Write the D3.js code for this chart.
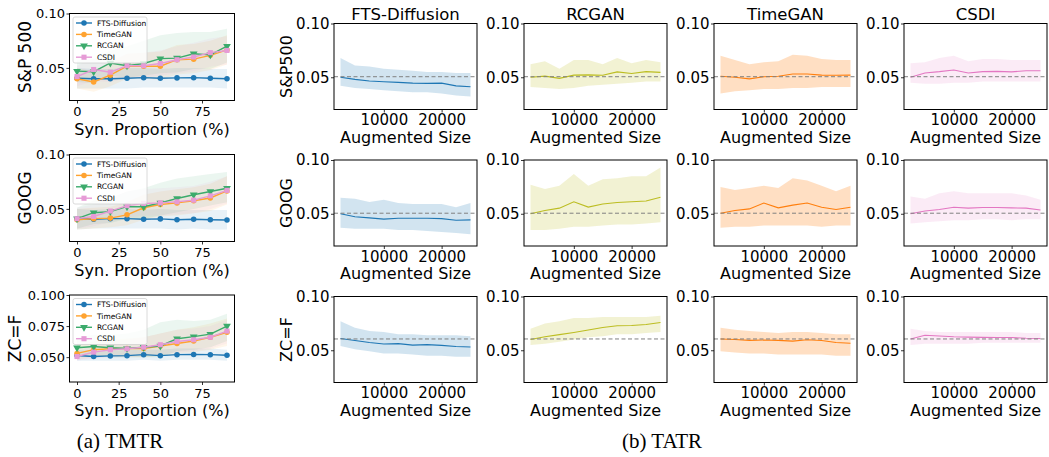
<!DOCTYPE html>
<html lang="en">
<head>
<meta charset="UTF-8">
<title>TMTR / TATR</title>
<script src="https://cdn.jsdelivr.net/npm/d3@7"></script>
<style>
  body { margin: 0; background: #fff; }
  text { font-family: 'DejaVu Sans', sans-serif; fill: #000; }
</style>
</head>
<body>
<script>
// ---- data ----
const models = ['FTS-Diffusion', 'TimeGAN', 'RCGAN', 'CSDI'];
const assetsLeft = ['S&P 500', 'GOOG', 'ZC=F'];
const assetsRight = ['S&P500', 'GOOG', 'ZC=F'];
const proportions = [0, 10, 20, 30, 40, 50, 60, 70, 80, 90];
const augSizes = [2500, 5000, 7500, 10000, 12500, 15000, 17500, 20000, 22500, 25000];

// TMTR (left), rows = models in order above
const tmtrSpx = [
    [0.0405, 0.0400, 0.0400, 0.0405, 0.0410, 0.0405, 0.0408, 0.0410, 0.0405, 0.0400],
    [0.0400, 0.0370, 0.0433, 0.0515, 0.0515, 0.0515, 0.0575, 0.0580, 0.0615, 0.0665],
    [0.0470, 0.0465, 0.0545, 0.0520, 0.0540, 0.0585, 0.0590, 0.0630, 0.0620, 0.0700],
    [0.0420, 0.0485, 0.0460, 0.0520, 0.0520, 0.0540, 0.0575, 0.0600, 0.0640, 0.0660]
];
const tmtrSpxLo = [
    [0.031, 0.031, 0.031, 0.031, 0.032, 0.032, 0.032, 0.032, 0.032, 0.031],
    [0.031, 0.028, 0.033, 0.040, 0.040, 0.039, 0.044, 0.045, 0.048, 0.053],
    [0.037, 0.036, 0.043, 0.041, 0.043, 0.045, 0.046, 0.049, 0.049, 0.055],
    [0.033, 0.038, 0.037, 0.041, 0.041, 0.043, 0.045, 0.047, 0.051, 0.053]
];
const tmtrSpxHi = [
    [0.050, 0.049, 0.049, 0.050, 0.050, 0.049, 0.050, 0.050, 0.049, 0.049],
    [0.050, 0.047, 0.055, 0.063, 0.064, 0.065, 0.071, 0.072, 0.075, 0.080],
    [0.057, 0.058, 0.066, 0.070, 0.075, 0.080, 0.082, 0.083, 0.083, 0.086],
    [0.052, 0.059, 0.057, 0.063, 0.064, 0.066, 0.070, 0.073, 0.077, 0.079]
];
const tmtrGoog = [
    [0.0410, 0.0405, 0.0410, 0.0410, 0.0405, 0.0408, 0.0400, 0.0405, 0.0400, 0.0398],
    [0.0400, 0.0410, 0.0415, 0.0445, 0.0510, 0.0540, 0.0555, 0.0575, 0.0600, 0.0665],
    [0.0410, 0.0465, 0.0475, 0.0520, 0.0520, 0.0555, 0.0595, 0.0630, 0.0660, 0.0690],
    [0.0410, 0.0430, 0.0480, 0.0530, 0.0550, 0.0555, 0.0565, 0.0580, 0.0620, 0.0670]
];
const tmtrGoogLo = [
    [0.031, 0.032, 0.032, 0.032, 0.032, 0.032, 0.031, 0.032, 0.031, 0.031],
    [0.031, 0.032, 0.033, 0.035, 0.040, 0.043, 0.044, 0.046, 0.048, 0.054],
    [0.032, 0.036, 0.037, 0.041, 0.041, 0.044, 0.047, 0.050, 0.053, 0.056],
    [0.032, 0.034, 0.038, 0.042, 0.044, 0.044, 0.045, 0.046, 0.050, 0.055]
];
const tmtrGoogHi = [
    [0.050, 0.049, 0.050, 0.050, 0.049, 0.050, 0.049, 0.049, 0.049, 0.049],
    [0.050, 0.051, 0.052, 0.056, 0.063, 0.066, 0.068, 0.070, 0.073, 0.080],
    [0.051, 0.058, 0.060, 0.066, 0.069, 0.074, 0.078, 0.080, 0.082, 0.084],
    [0.051, 0.054, 0.060, 0.066, 0.068, 0.069, 0.070, 0.071, 0.075, 0.080]
];
const tmtrZc = [
    [0.0513, 0.0505, 0.0510, 0.0512, 0.0520, 0.0512, 0.0520, 0.0522, 0.0520, 0.0515],
    [0.0530, 0.0560, 0.0567, 0.0570, 0.0570, 0.0590, 0.0610, 0.0630, 0.0660, 0.0700],
    [0.0575, 0.0586, 0.0575, 0.0570, 0.0580, 0.0590, 0.0648, 0.0665, 0.0685, 0.0750],
    [0.0505, 0.0540, 0.0560, 0.0567, 0.0580, 0.0600, 0.0626, 0.0640, 0.0660, 0.0710]
];
const tmtrZcLo = [
    [0.047, 0.047, 0.047, 0.047, 0.048, 0.047, 0.048, 0.048, 0.048, 0.047],
    [0.048, 0.050, 0.050, 0.050, 0.050, 0.051, 0.053, 0.054, 0.056, 0.059],
    [0.050, 0.051, 0.050, 0.050, 0.050, 0.050, 0.055, 0.056, 0.058, 0.063],
    [0.047, 0.049, 0.050, 0.050, 0.051, 0.052, 0.054, 0.055, 0.057, 0.061]
];
const tmtrZcHi = [
    [0.056, 0.055, 0.055, 0.056, 0.056, 0.056, 0.057, 0.057, 0.057, 0.056],
    [0.059, 0.063, 0.064, 0.065, 0.066, 0.069, 0.072, 0.074, 0.077, 0.081],
    [0.066, 0.068, 0.068, 0.069, 0.072, 0.078, 0.080, 0.079, 0.080, 0.085],
    [0.055, 0.060, 0.063, 0.064, 0.066, 0.069, 0.072, 0.073, 0.075, 0.080]
];

// TATR (right), rows = models in order above
const tatrSpx = [
    [0.0500, 0.0480, 0.0465, 0.0458, 0.0452, 0.0445, 0.0443, 0.0445, 0.0420, 0.0412],
    [0.0510, 0.0500, 0.0485, 0.0505, 0.0510, 0.0530, 0.0530, 0.0520, 0.0518, 0.0520],
    [0.0500, 0.0510, 0.0490, 0.0520, 0.0522, 0.0518, 0.0550, 0.0535, 0.0552, 0.0545],
    [0.0500, 0.0540, 0.0552, 0.0568, 0.0540, 0.0552, 0.0555, 0.0550, 0.0560, 0.0560]
];
const tatrSpxLo = [
    [0.042, 0.040, 0.039, 0.038, 0.037, 0.036, 0.036, 0.035, 0.033, 0.032],
    [0.035, 0.037, 0.038, 0.039, 0.039, 0.040, 0.040, 0.041, 0.041, 0.041],
    [0.041, 0.040, 0.039, 0.040, 0.042, 0.043, 0.044, 0.045, 0.046, 0.046],
    [0.045, 0.044, 0.044, 0.045, 0.045, 0.046, 0.046, 0.046, 0.046, 0.046]
];
const tatrSpxHi = [
    [0.068, 0.061, 0.060, 0.058, 0.057, 0.056, 0.055, 0.055, 0.054, 0.054],
    [0.070, 0.066, 0.062, 0.064, 0.065, 0.071, 0.070, 0.067, 0.066, 0.066],
    [0.062, 0.065, 0.058, 0.066, 0.066, 0.062, 0.068, 0.063, 0.066, 0.064],
    [0.063, 0.064, 0.068, 0.070, 0.065, 0.067, 0.067, 0.066, 0.066, 0.066]
];
const tatrGoog = [
    [0.0500, 0.0472, 0.0462, 0.0450, 0.0458, 0.0458, 0.0458, 0.0455, 0.0440, 0.0443],
    [0.0505, 0.0530, 0.0545, 0.0600, 0.0555, 0.0580, 0.0600, 0.0560, 0.0540, 0.0560],
    [0.0500, 0.0530, 0.0552, 0.0611, 0.0562, 0.0590, 0.0605, 0.0612, 0.0618, 0.0653],
    [0.0500, 0.0525, 0.0540, 0.0560, 0.0552, 0.0558, 0.0558, 0.0555, 0.0552, 0.0535]
];
const tatrGoogLo = [
    [0.037, 0.036, 0.036, 0.036, 0.035, 0.035, 0.034, 0.033, 0.032, 0.031],
    [0.037, 0.038, 0.038, 0.039, 0.039, 0.039, 0.039, 0.038, 0.039, 0.039],
    [0.035, 0.035, 0.036, 0.038, 0.038, 0.039, 0.040, 0.040, 0.041, 0.042],
    [0.041, 0.042, 0.043, 0.044, 0.044, 0.045, 0.045, 0.044, 0.045, 0.045]
];
const tatrGoogHi = [
    [0.065, 0.064, 0.061, 0.063, 0.060, 0.059, 0.059, 0.059, 0.056, 0.060],
    [0.075, 0.072, 0.074, 0.076, 0.074, 0.083, 0.081, 0.076, 0.071, 0.076],
    [0.077, 0.073, 0.076, 0.087, 0.076, 0.082, 0.083, 0.085, 0.085, 0.093],
    [0.066, 0.064, 0.069, 0.071, 0.069, 0.069, 0.069, 0.069, 0.067, 0.063]
];
const tatrZc = [
    [0.0610, 0.0590, 0.0572, 0.0558, 0.0562, 0.0548, 0.0552, 0.0545, 0.0535, 0.0530],
    [0.0605, 0.0600, 0.0592, 0.0595, 0.0592, 0.0585, 0.0598, 0.0590, 0.0572, 0.0565],
    [0.0600, 0.0625, 0.0645, 0.0665, 0.0688, 0.0712, 0.0728, 0.0730, 0.0740, 0.0758],
    [0.0605, 0.0640, 0.0632, 0.0625, 0.0622, 0.0620, 0.0618, 0.0618, 0.0612, 0.0610]
];
const tatrZcLo = [
    [0.054, 0.051, 0.049, 0.047, 0.047, 0.046, 0.045, 0.045, 0.044, 0.044],
    [0.049, 0.048, 0.047, 0.047, 0.046, 0.046, 0.046, 0.046, 0.045, 0.045],
    [0.055, 0.056, 0.058, 0.060, 0.062, 0.063, 0.065, 0.065, 0.066, 0.067],
    [0.055, 0.056, 0.056, 0.056, 0.056, 0.057, 0.057, 0.057, 0.057, 0.057]
];
const tatrZcHi = [
    [0.077, 0.071, 0.068, 0.067, 0.065, 0.065, 0.064, 0.064, 0.064, 0.063],
    [0.071, 0.069, 0.068, 0.067, 0.066, 0.067, 0.067, 0.066, 0.065, 0.065],
    [0.070, 0.075, 0.077, 0.080, 0.080, 0.081, 0.081, 0.081, 0.081, 0.082],
    [0.070, 0.068, 0.067, 0.067, 0.067, 0.067, 0.067, 0.067, 0.066, 0.066]
];
const baselines = [0.0505, 0.0505, 0.0605];

const leftMean = [tmtrSpx, tmtrGoog, tmtrZc];
const leftLo = [tmtrSpxLo, tmtrGoogLo, tmtrZcLo];
const leftHi = [tmtrSpxHi, tmtrGoogHi, tmtrZcHi];
const rightMean = [tatrSpx, tatrGoog, tatrZc];
const rightLo = [tatrSpxLo, tatrGoogLo, tatrZcLo];
const rightHi = [tatrSpxHi, tatrGoogHi, tatrZcHi];
const rightColumns = ['FTS-Diffusion', 'RCGAN', 'TimeGAN', 'CSDI'];

// ---- styling ----
const leftColor = {'FTS-Diffusion': '#1f77b4', 'TimeGAN': '#ffa330', 'RCGAN': '#3cab6c', 'CSDI': '#e69bd6'};
const rightColor = {'FTS-Diffusion': '#1f77b4', 'TimeGAN': '#ff7f0e', 'RCGAN': '#bcbd22', 'CSDI': '#e377c2'};
const rightFillOpacity = {'FTS-Diffusion': 0.2, 'TimeGAN': 0.25, 'RCGAN': 0.2, 'CSDI': 0.15};
const markerType = {
    'FTS-Diffusion': d3.symbol().type(d3.symbolCircle).size(24),
    'TimeGAN': d3.symbol().type(d3.symbolCircle).size(24),
    'RCGAN': d3.symbol().type(d3.symbolTriangle).size(26),
    'CSDI': d3.symbol().type(d3.symbolSquare).size(26)
};
const markerRotate = m => m === 'RCGAN' ? ' rotate(180)' : '';

const W = 1049, H = 457;
const svg = d3.select('body').append('svg').attr('width', W).attr('height', H);
svg.append('rect').attr('width', W).attr('height', H).attr('fill', '#fff');

function styleAxis(g, fontSize) {
    g.select('.domain').remove();
    g.selectAll('.tick line').attr('stroke', '#000').attr('stroke-width', 0.8);
    g.selectAll('.tick text').attr('font-size', fontSize + 'px')
        .attr('font-family', "'DejaVu Sans', sans-serif").attr('fill', '#000');
}

// ---- left column (TMTR) ----
const L = {x: 69.5, w: 165, h: 87, tops: [13.5, 154.5, 295]};
const leftYDomain = [[0.02, 0.10], [0.02, 0.10], [0.03, 0.10]];
const leftYTicks = [[0.05, 0.10], [0.05, 0.10], [0.05, 0.075, 0.10]];
const leftYFmt = [d3.format('.2f'), d3.format('.2f'), d3.format('.3f')];
const leftYLabelOff = [44, 44, 54];

assetsLeft.forEach((asset, r) => {
    const g = svg.append('g').attr('transform', `translate(${L.x},${L.tops[r]})`);
    const x = d3.scaleLinear().domain([-4.5, 94.5]).range([0, L.w]);
    const y = d3.scaleLinear().domain(leftYDomain[r]).range([L.h, 0]);

    // bands
    models.forEach((m, k) => {
        const area = d3.area()
            .x((d, i) => x(proportions[i]))
            .y0((d, i) => y(leftLo[r][k][i]))
            .y1((d, i) => y(leftHi[r][k][i]));
        g.append('path').attr('d', area(proportions))
            .attr('fill', leftColor[m]).attr('fill-opacity', 0.1);
    });
    // lines + markers
    models.forEach((m, k) => {
        const line = d3.line().x((d, i) => x(proportions[i])).y(d => y(d));
        g.append('path').attr('d', line(leftMean[r][k]))
            .attr('fill', 'none').attr('stroke', leftColor[m]).attr('stroke-width', 1.4);
        g.selectAll(null).data(leftMean[r][k]).enter().append('path')
            .attr('d', markerType[m])
            .attr('transform', (d, i) => `translate(${x(proportions[i])},${y(d)})` + markerRotate(m))
            .attr('fill', leftColor[m]);
    });

    // axes
    const ax = g.append('g').attr('transform', `translate(0,${L.h})`)
        .call(d3.axisBottom(x).tickValues([0, 25, 50, 75]).tickSize(3).tickPadding(3.5));
    styleAxis(ax, 13);
    const ay = g.append('g')
        .call(d3.axisLeft(y).tickValues(leftYTicks[r]).tickFormat(leftYFmt[r]).tickSize(3).tickPadding(1.5));
    styleAxis(ay, 13);
    g.append('rect').attr('width', L.w).attr('height', L.h)
        .attr('fill', 'none').attr('stroke', '#000').attr('stroke-width', 1);

    g.append('text').attr('x', L.w / 2).attr('y', L.h + 34)
        .attr('text-anchor', 'middle').attr('font-size', '16px').text('Syn. Proportion (%)');
    g.append('text').attr('transform', `translate(${-leftYLabelOff[r]},${L.h / 2}) rotate(-90)`)
        .attr('text-anchor', 'middle').attr('dy', '0.35em').attr('font-size', '17px').text(asset);

    // legend
    const lg = g.append('g').attr('transform', 'translate(3.5,3.5)');
    lg.append('rect').attr('width', 74).attr('height', 46).attr('rx', 2)
        .attr('fill', '#fff').attr('fill-opacity', 0.8).attr('stroke', '#d0d0d0').attr('stroke-width', 0.8);
    models.forEach((m, k) => {
        const yy = 6 + k * 11.4;
        lg.append('line').attr('x1', 3).attr('x2', 19).attr('y1', yy).attr('y2', yy)
            .attr('stroke', leftColor[m]).attr('stroke-width', 1.4);
        lg.append('path').attr('d', markerType[m])
            .attr('transform', `translate(11,${yy})` + markerRotate(m)).attr('fill', leftColor[m]);
        lg.append('text').attr('x', 24).attr('y', yy).attr('dy', '0.35em')
            .attr('font-size', '7.5px').text(m);
    });
});

// ---- right grid (TATR) ----
const R = {xs: [334, 524, 714, 904], w: 143, h: 86, tops: [23.5, 160, 296.5]};

assetsRight.forEach((asset, r) => {
    rightColumns.forEach((m, c) => {
        const k = models.indexOf(m);
        const g = svg.append('g').attr('transform', `translate(${R.xs[c]},${R.tops[r]})`);
        const x = d3.scaleLinear().domain([1375, 26125]).range([0, R.w]);
        const y = d3.scaleLinear().domain([0.02, 0.10]).range([R.h, 0]);

        const area = d3.area()
            .x((d, i) => x(augSizes[i]))
            .y0((d, i) => y(rightLo[r][k][i]))
            .y1((d, i) => y(rightHi[r][k][i]));
        g.append('path').attr('d', area(augSizes))
            .attr('fill', rightColor[m]).attr('fill-opacity', rightFillOpacity[m]);
        const line = d3.line().x((d, i) => x(augSizes[i])).y(d => y(d));
        g.append('path').attr('d', line(rightMean[r][k]))
            .attr('fill', 'none').attr('stroke', rightColor[m]).attr('stroke-width', 1.1);
        g.append('line').attr('x1', 0).attr('x2', R.w)
            .attr('y1', y(baselines[r])).attr('y2', y(baselines[r]))
            .attr('stroke', '#808080').attr('stroke-width', 1).attr('stroke-dasharray', '4,2.5');

        const ax = g.append('g').attr('transform', `translate(0,${R.h})`)
            .call(d3.axisBottom(x).tickValues([10000, 20000]).tickFormat(d3.format('d')).tickSize(3).tickPadding(2));
        styleAxis(ax, 15);
        const ay = g.append('g')
            .call(d3.axisLeft(y).tickValues([0.05, 0.10]).tickFormat(d3.format('.2f')).tickSize(3).tickPadding(1.5));
        styleAxis(ay, 15);
        g.append('rect').attr('width', R.w).attr('height', R.h)
            .attr('fill', 'none').attr('stroke', '#000').attr('stroke-width', 1);

        g.append('text').attr('x', R.w / 2).attr('y', R.h + 33)
            .attr('text-anchor', 'middle').attr('font-size', '16px').text('Augmented Size');
        if (r === 0) {
            g.append('text').attr('x', R.w / 2).attr('y', -4)
                .attr('text-anchor', 'middle').attr('font-size', '16.5px').text(m);
        }
        if (c === 0) {
            g.append('text').attr('transform', `translate(-48,${R.h / 2}) rotate(-90)`)
                .attr('text-anchor', 'middle').attr('dy', '0.35em').attr('font-size', '16px').text(asset);
        }
    });
});

// ---- captions ----
svg.append('text').attr('x', 120).attr('y', 448).attr('text-anchor', 'middle')
    .style('font-family', "'Liberation Serif', serif").attr('font-size', '21px').text('(a)  TMTR');
svg.append('text').attr('x', 662).attr('y', 448).attr('text-anchor', 'middle')
    .style('font-family', "'Liberation Serif', serif").attr('font-size', '21px').text('(b)  TATR');
</script>
</body>
</html>
